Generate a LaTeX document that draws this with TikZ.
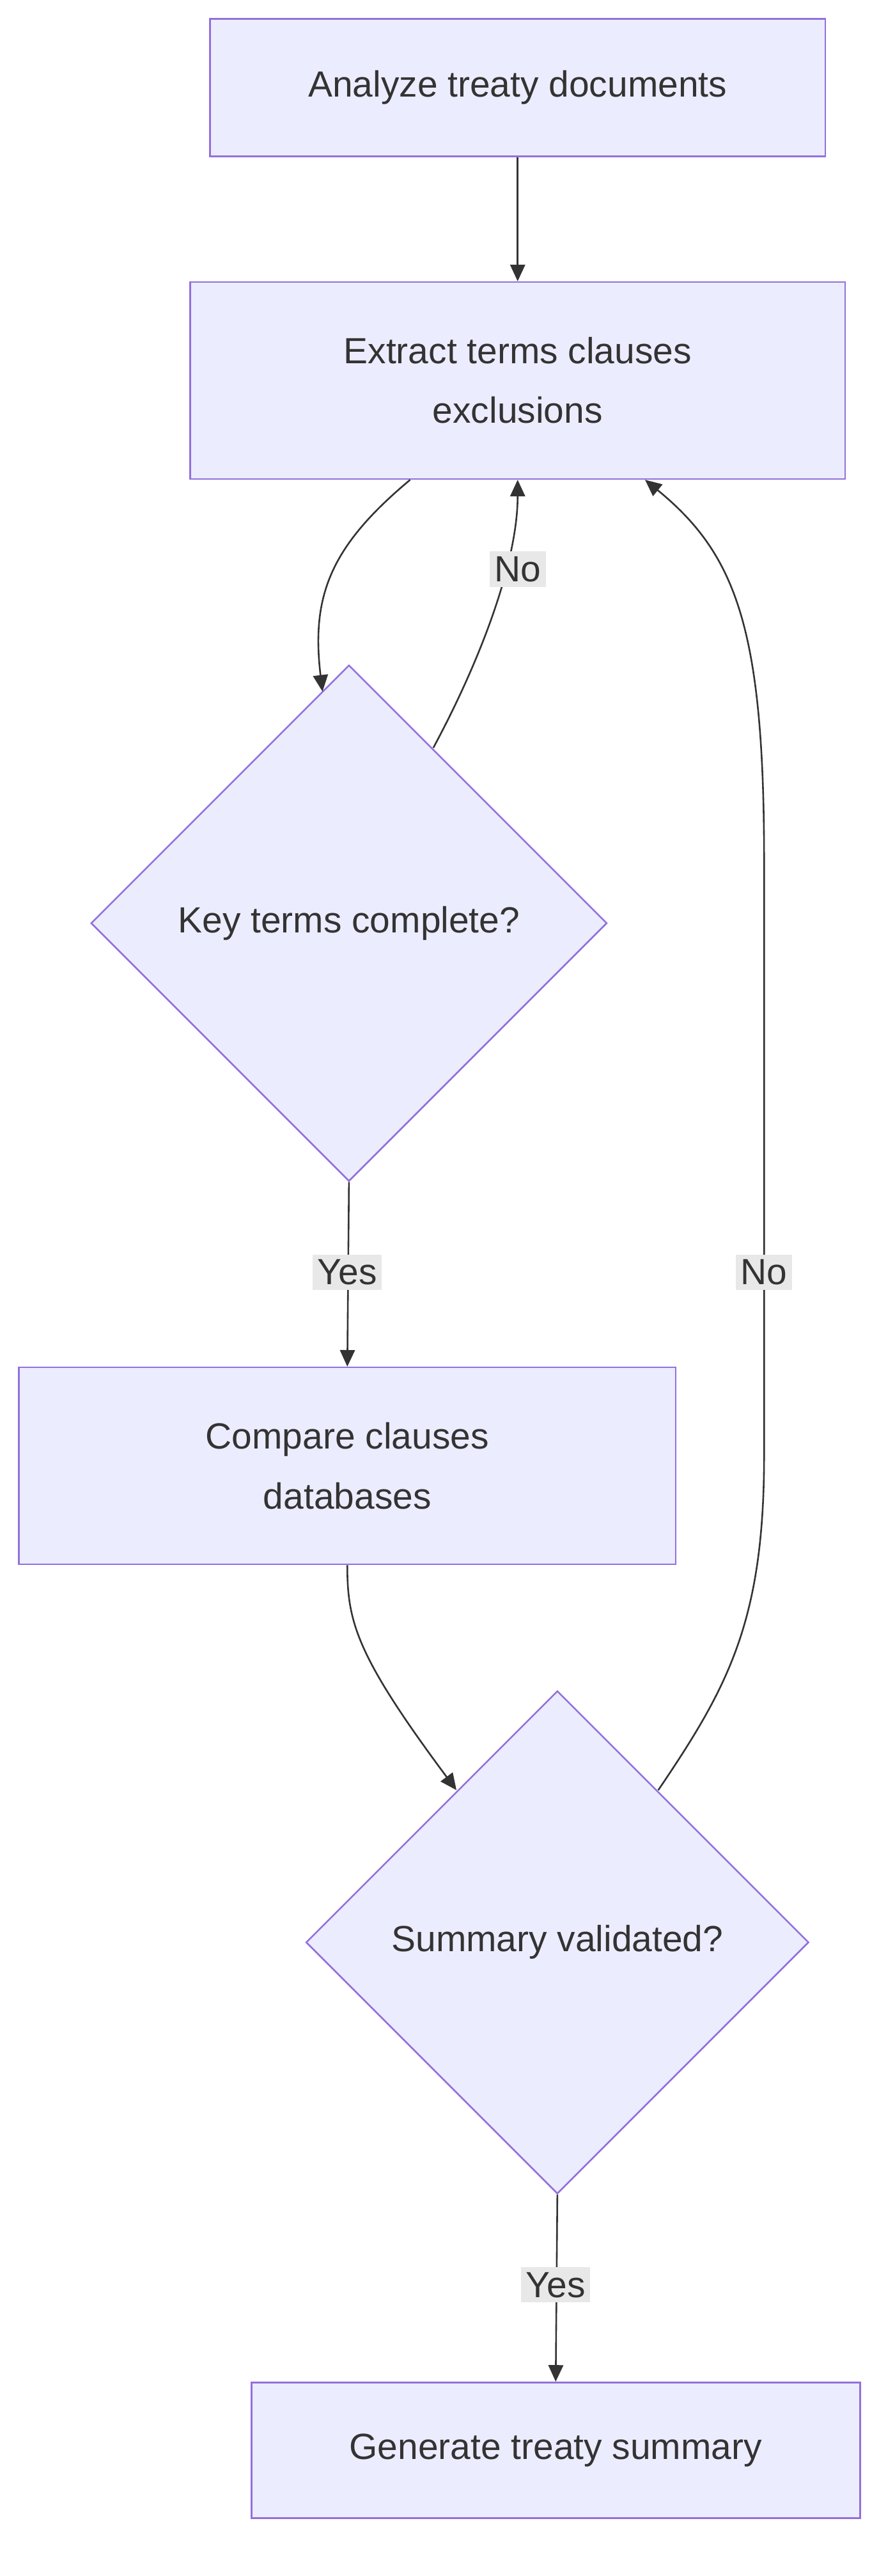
\documentclass[tikz,border=0pt]{standalone}
\usepackage{fontspec}
\setmainfont{Liberation Sans}
\usetikzlibrary{shapes.geometric,arrows.meta}
\definecolor{nodefill}{HTML}{ECECFF}
\definecolor{nodeline}{HTML}{9370DB}
\definecolor{ink}{HTML}{333333}
\definecolor{lblbg}{HTML}{E8E8E8}
\tikzset{
  box/.style={draw=nodeline,fill=nodefill,line width=1pt,text=ink,align=center,font=\fontsize{22}{36}\selectfont},
  decision/.style={draw=nodeline,fill=nodefill,line width=1pt,text=ink,diamond,aspect=1,inner sep=0pt,font=\fontsize{22}{36}\selectfont},
  flow/.style={draw=ink,line width=1pt,-{Triangle[length=10pt,width=9pt]}},
  lbl/.style={fill=lblbg,text=ink,inner sep=3pt,font=\fontsize{22}{26}\selectfont}
}
\begin{document}
\begin{tikzpicture}[x=1pt,y=1pt]
\useasboundingbox (0,0) rectangle (541,-1557);
% nodes
\node[box,minimum width=372pt,minimum height=83pt] (analyze) at (313,-53) {Analyze treaty documents};
\node[box,minimum width=396pt,minimum height=119pt] (extract) at (313,-230) {Extract terms clauses\\exclusions};
\node[decision,minimum size=312pt] (keyterms) at (211,-558) {Key terms complete?};
\node[box,minimum width=397pt,minimum height=119pt] (compare) at (210,-886) {Compare clauses\\databases};
\node[decision,minimum size=304pt] (validated) at (337,-1174) {Summary validated?};
\node[box,minimum width=368pt,minimum height=82pt] (generate) at (336,-1481) {Generate treaty summary};
% connector ends
\coordinate (exleft) at (248,-290);
\coordinate (ktin) at (195,-418);
\coordinate (ktout) at (262,-452);
\coordinate (valin) at (276,-1082);
\coordinate (valout) at (398,-1082);
\coordinate (exright) at (390,-290);
% connectors
\draw[flow] (analyze) -- (extract);
\draw[flow] (exleft) .. controls (200,-330) and (188,-360) .. (ktin);
\draw[flow] (ktout) .. controls (290,-400) and (313,-340) .. (313,-290);
\draw[flow] (valout) .. controls (440,-1020) and (462,-980) .. (462,-880)
  -- (462,-520) .. controls (462,-380) and (445,-335) .. (exright);
\draw[flow] (keyterms.south) -- (compare.north);
\draw[flow] (compare.south) .. controls (210,-980) and (215,-1000) .. (valin);
\draw[flow] (validated.south) -- (generate.north);
% labels
\node[lbl] (nokey) at (313,-344) {No};
\node[lbl] (yeskey) at (210,-769) {Yes};
\node[lbl] (noval) at (462,-769) {No};
\node[lbl] (yesval) at (336,-1381) {Yes};
\end{tikzpicture}
\end{document}
